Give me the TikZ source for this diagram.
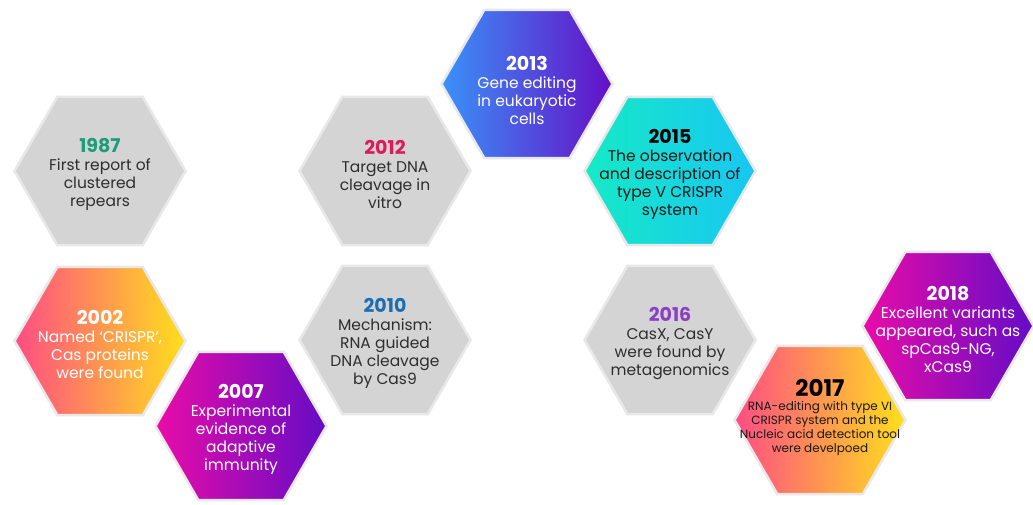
\documentclass[tikz,border=0pt]{standalone}
\usepackage{fontspec}
\setmainfont{Poppins}
\usetikzlibrary{shapes.geometric}

\definecolor{hexgray}{HTML}{D4D4D4}
\definecolor{hexedge}{HTML}{E8E8E8}
\definecolor{bodygray}{HTML}{2E2E2E}
\definecolor{yrgreen}{HTML}{1E9E78}
\definecolor{yrred}{HTML}{D81C5C}
\definecolor{yrblue}{HTML}{1C6EB4}
\definecolor{yrpurple}{HTML}{8B3FC2}
\definecolor{warmA}{HTML}{FF4C84}
\definecolor{warmB}{HTML}{FFE01C}
\definecolor{violA}{HTML}{EA0CA8}
\definecolor{violB}{HTML}{640CC6}
\definecolor{blueA}{HTML}{3A92F8}
\definecolor{blueB}{HTML}{650FC6}
\definecolor{tealA}{HTML}{16EAC6}
\definecolor{tealB}{HTML}{18C6F2}

\newcommand{\yr}[3][19]{{\color{#2}\fontsize{#1}{21}\selectfont\bfseries #3}}

\begin{document}
\begin{tikzpicture}[x=1pt,y=-1pt,
  hex/.style={regular polygon,regular polygon sides=6,minimum size=171pt,
    inner sep=0pt,draw=hexedge,line width=2.5pt},
  grayhex/.style={hex,fill=hexgray},
  warmhex/.style={hex,left color=warmA,right color=warmB},
  violhex/.style={hex,left color=violA,right color=violB},
  bluehex/.style={hex,left color=blueA,right color=blueB},
  tealhex/.style={hex,left color=tealA,right color=tealB},
  txt/.style={align=center,yshift=-3pt,font=\fontsize{15.5}{18}\selectfont},
  smalltxt/.style={align=center,font=\fontsize{12}{14}\selectfont}]

\fill[white] (0,0) rectangle (1033,504);
\useasboundingbox (0,0) rectangle (1033,504);

% hexagons
\node[grayhex] (h1987) at (100,171) {};
\node[warmhex] (h2002) at (100,341) {};
\node[violhex] (h2007) at (241,426) {};
\node[grayhex] (h2012) at (385,171) {};
\node[grayhex] (h2010) at (385,340) {};
\node[bluehex] (h2013) at (527,84) {};
\node[tealhex] (h2015) at (670,171) {};
\node[grayhex] (h2016) at (670,340) {};
\node[warmhex] (h2017) at (820,420) {};
\node[violhex] (h2018) at (948,326) {};

% texts
\node[txt,text=bodygray] (t1987) at (h1987) {\yr{yrgreen}{1987}\\First report of\\clustered\\repears};
\node[txt,text=white] (t2002) at (h2002) {\yr{white}{2002}\\Named `CRISPR',\\Cas proteins\\were found};
\node[txt,text=white] (t2007) at (h2007) {\yr{white}{2007}\\Experimental\\evidence of\\adaptive\\immunity};
\node[txt,text=bodygray] (t2012) at (h2012) {\yr{yrred}{2012}\\Target DNA\\cleavage in\\vitro};
\node[txt,text=bodygray] (t2010) at (h2010) {\yr{yrblue}{2010}\\Mechanism:\\RNA guided\\DNA cleavage\\by Cas9};
\node[txt,text=white] (t2013) at ([yshift=-3pt]h2013) {\yr{white}{2013}\\Gene editing\\in eukaryotic\\cells};
\node[txt,text=black!90] (t2015) at (h2015) {\yr{black}{2015}\\The observation\\and description of\\type V CRISPR\\system};
\node[txt,text=bodygray] (t2016) at (h2016) {\yr{yrpurple}{2016}\\CasX, CasY\\were found by\\metagenomics};
\node[smalltxt,text=black!90] (t2017) at ([yshift=3pt]h2017) {\yr[23]{black}{2017}\\RNA-editing with type VI\\CRISPR system and the\\Nucleic acid detection tool\\were develpoed};
\node[txt,text=white] (t2018) at (h2018) {\yr{white}{2018}\\Excellent variants\\appeared, such as\\spCas9-NG,\\xCas9};

\end{tikzpicture}
\end{document}
